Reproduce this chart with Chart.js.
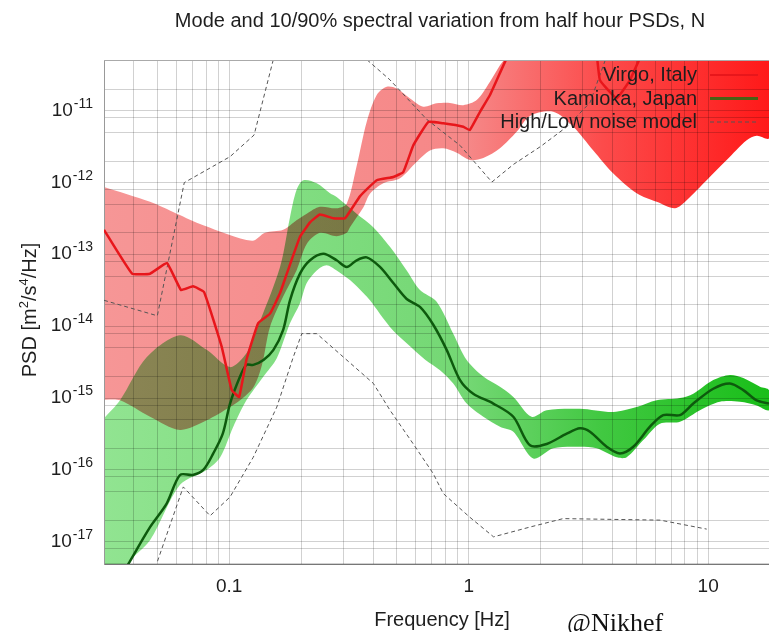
<!DOCTYPE html>
<html>
<head>
<meta charset="utf-8">
<script src="https://cdn.jsdelivr.net/npm/chart.js@4.4.0/dist/chart.umd.min.js"></script>
<style>
    body { margin: 0; background: #fff; }
    canvas { display: block; }
</style>
</head>
<body>
<canvas id="myChart" width="769" height="632"></canvas>
<script>
// frequency [Hz] and PSD [m^2/s^4/Hz]

// Virgo, Italy - mode
let virgoModeF = [0.030, 0.0393, 0.0467, 0.055, 0.0629, 0.0706, 0.0785, 0.093, 0.1024, 0.110, 0.118, 0.132, 0.148, 0.163, 0.174, 0.1975, 0.2175, 0.239, 0.272, 0.3045, 0.352, 0.413, 0.4845, 0.533, 0.587, 0.678, 0.783, 0.95, 1.01, 1.115, 1.227, 1.418, 1.64, 3.27, 3.53, 4.15, 4.72, 5.72, 18];
let virgoModeP = [2.2e-13, 5.4e-14, 5.4e-14, 7.6e-14, 3.2e-14, 3.6e-14, 3.0e-14, 5.2e-15, 1.3e-15, 1.04e-15, 3.4e-15, 1.1e-14, 1.5e-14, 2.9e-14, 5.4e-14, 1.76e-13, 2.8e-13, 3.6e-13, 3.2e-13, 3.2e-13, 6.5e-13, 1.08e-12, 1.2e-12, 1.4e-12, 3.3e-12, 7.0e-12, 6.7e-12, 6.0e-12, 5.4e-12, 9.7e-12, 1.66e-11, 4.8e-11, 1.2e-10, 1.5e-10, 2.7e-11, 1.5e-11, 2.7e-11, 9.7e-11, 2e-10];

// Virgo 90% / 10% envelope
let virgoHighF = [0.030, 0.0467, 0.0604, 0.0779, 0.1245, 0.141, 0.168, 0.191, 0.2107, 0.239, 0.281, 0.3095, 0.3405, 0.375, 0.413, 0.4546, 0.5003, 0.569, 0.646, 0.735, 0.835, 0.9495, 1.08, 1.227, 1.351, 1.441, 1.64, 18];
let virgoHighP = [8.7e-13, 5.4e-13, 3.7e-13, 2.56e-13, 1.55e-13, 2.0e-13, 2.2e-13, 3.0e-13, 3.7e-13, 4.6e-13, 4.4e-13, 5.1e-13, 1.7e-12, 7.0e-12, 1.66e-11, 2.16e-11, 2.05e-11, 1.49e-11, 1.14e-11, 1.27e-11, 1.29e-11, 1.2e-11, 1.41e-11, 2.54e-11, 4.3e-11, 5.8e-11, 1.5e-10, 1.5e-10];
let virgoLowF = [0.030, 0.035, 0.0467, 0.0623, 0.0805, 0.1008, 0.111, 0.126, 0.137, 0.148, 0.168, 0.191, 0.2107, 0.239, 0.281, 0.3095, 0.3193, 0.363, 0.387, 0.44, 0.5166, 0.607, 0.689, 0.783, 0.891, 1.0125, 1.151, 1.351, 1.586, 1.803, 2.256, 2.734, 3.314, 4.017, 5.029, 6.095, 7.268, 8.132, 9.856, 11.95, 14.48, 15.95, 17.95];
let virgoLowP = [9.5e-16, 9.3e-16, 5.5e-16, 3.6e-16, 4.9e-16, 7.5e-16, 9.3e-16, 1.4e-15, 2.9e-15, 9.8e-15, 2.6e-14, 6.0e-14, 1.4e-13, 2.0e-13, 1.8e-13, 2.0e-13, 2.4e-13, 4.5e-13, 7.0e-13, 9.8e-13, 1.15e-12, 1.95e-12, 2.8e-12, 3.0e-12, 2.6e-12, 2.06e-12, 2.2e-12, 3.0e-12, 5.1e-12, 8.5e-12, 9.7e-12, 6.0e-12, 2.8e-12, 1.34e-12, 7.1e-13, 5.4e-13, 4.4e-13, 5.7e-13, 1.08e-12, 2.06e-12, 3.9e-12, 4.5e-12, 4.2e-12];

// Kamioka, Japan - mode
let kamModeF = [0.030, 0.0379, 0.0467, 0.0548, 0.0623, 0.0704, 0.0779, 0.0858, 0.094, 0.1008, 0.111, 0.118, 0.126, 0.139, 0.153, 0.168, 0.1794, 0.1975, 0.2175, 0.247, 0.281, 0.3095, 0.3405, 0.375, 0.426, 0.4845, 0.551, 0.626, 0.7114, 0.809, 0.92, 1.045, 1.267, 1.536, 1.803, 2.117, 2.566, 2.915, 3.21, 3.77, 4.282, 4.868, 5.715, 6.494, 7.625, 8.666, 10.5, 12.33, 14.02, 15.95, 17.95];
let kamModeP = [1.3e-18, 4.9e-18, 1.6e-17, 3.4e-17, 8.5e-17, 8.5e-17, 1.0e-16, 1.7e-16, 3.2e-16, 8.4e-16, 2.0e-15, 2.9e-15, 2.9e-15, 3.4e-15, 4.7e-15, 8.9e-15, 2.3e-14, 5.4e-14, 8.3e-14, 1.02e-13, 8.3e-14, 6.7e-14, 8.3e-14, 9.1e-14, 6.7e-14, 4.0e-14, 2.4e-14, 1.86e-14, 1.05e-14, 4.7e-15, 1.78e-15, 1.15e-15, 8.4e-16, 5.5e-16, 2.2e-16, 2.3e-16, 3.2e-16, 3.8e-16, 3.4e-16, 2.1e-16, 1.7e-16, 2.1e-16, 4.0e-16, 5.8e-16, 5.8e-16, 8.4e-16, 1.35e-15, 1.6e-15, 1.29e-15, 9.3e-16, 8.4e-16];

// Kamioka 90% / 10% envelope
let kamHighF = [0.030, 0.035, 0.0452, 0.0623, 0.0805, 0.1008, 0.118, 0.130, 0.163, 0.1794, 0.191, 0.204, 0.232, 0.2636, 0.281, 0.3405, 0.3995, 0.469, 0.551, 0.626, 0.735, 0.862, 0.981, 1.151, 1.351, 1.536, 1.83, 2.117, 2.915, 4.017, 5.029, 6.095, 7.625, 8.666, 10.5, 12.33, 14.02, 16.46, 17.95];
let kamHighP = [5.2e-16, 9.3e-16, 3.7e-15, 7.5e-15, 4.7e-15, 2.7e-15, 4.2e-15, 8.9e-15, 6.7e-14, 3.3e-13, 7.9e-13, 1.08e-12, 9.8e-13, 7.1e-13, 6.3e-13, 3.7e-13, 2.4e-13, 1.28e-13, 6.0e-14, 3.2e-14, 2.2e-14, 7.9e-15, 3.4e-15, 2.0e-15, 1.44e-15, 1.04e-15, 5.5e-16, 6.8e-16, 7.1e-16, 6.4e-16, 7.5e-16, 9.3e-16, 1.0e-15, 1.15e-15, 1.78e-15, 2.1e-15, 1.9e-15, 1.44e-15, 1.29e-15];
let kamLowF = [0.030, 0.0373, 0.0467, 0.0623, 0.0805, 0.0917, 0.104, 0.118, 0.139, 0.158, 0.1794, 0.1975, 0.2107, 0.232, 0.255, 0.281, 0.3193, 0.363, 0.387, 0.469, 0.551, 0.66, 0.759, 0.862, 0.981, 1.151, 1.351, 1.536, 1.861, 2.256, 2.915, 3.423, 4.15, 4.568, 5.358, 6.292, 7.625, 9.243, 11.2, 13.58, 15.95, 17.95];
let kamLowP = [1.5e-18, 4.9e-18, 1.05e-17, 6.2e-17, 1.0e-16, 1.5e-16, 4.0e-16, 9.3e-16, 2.0e-15, 3.6e-15, 1.1e-14, 2.1e-14, 4.0e-14, 6.0e-14, 7.1e-14, 6.0e-14, 4.4e-14, 2.9e-14, 2.3e-14, 9.8e-15, 5.8e-15, 3.4e-15, 2.45e-15, 1.6e-15, 8.4e-16, 5.5e-16, 4.0e-16, 3.4e-16, 1.44e-16, 2.0e-16, 2.1e-16, 2.0e-16, 1.5e-16, 1.5e-16, 2.6e-16, 4.4e-16, 4.7e-16, 6.8e-16, 8.9e-16, 8.9e-16, 7.9e-16, 6.8e-16];

// Peterson high / low noise models
let nhnmF = [0.030, 0.0501, 0.0649, 0.1008, 0.127, 0.18, 0.469, 0.668, 0.92, 1.25, 1.54, 2.0, 2.57, 3.21, 4.0];
let nhnmP = [2.3e-14, 1.4e-14, 1.0e-12, 2.3e-12, 4.6e-12, 4.4e-10, 2.7e-11, 7.6e-12, 3.3e-12, 1.02e-12, 1.8e-12, 3.2e-12, 6.0e-12, 1.3e-11, 1.0e-10];
let nlnmF = [0.048, 0.0643, 0.0832, 0.1008, 0.126, 0.158, 0.185, 0.201, 0.232, 0.40, 0.469, 0.587, 0.711, 0.783, 1.01, 1.27, 1.80, 2.48, 6.3, 9.86];
let nlnmP = [3.5e-18, 5.8e-17, 2.3e-17, 4.2e-17, 1.5e-16, 7.5e-16, 3.7e-15, 7.9e-15, 7.9e-15, 1.6e-15, 6.8e-16, 2.3e-16, 8.9e-17, 4.7e-17, 2.2e-17, 1.17e-17, 1.6e-17, 2.1e-17, 2.0e-17, 1.5e-17];

// axes
let xMin = 0.03, xMax = 17.95;
let yMin = 4.9e-18, yMax = 5.1e-11;
let xLabels = [0.1, 1, 10];
let yExps = [-17, -16, -15, -14, -13, -12, -11];

let titleText = 'Mode and 10/90% spectral variation from half hour PSDs, N';
let sans = '"Liberation Sans", Arial, sans-serif';

let pts = (f, p) => f.map((x, i) => ({ x: x, y: p[i] }));
// closed outline: upper edge left->right, lower edge right->left
let band = (fu, pu, fl, pl) => pts(fu, pu).concat(pts(fl, pl).reverse());

let xTicks = [];
for (let e = -2; e <= 1; e++) {
    for (let m = 1; m <= 9; m++) {
        let v = Number(m + 'e' + e);
        if (v >= xMin && v <= xMax) xTicks.push(v);
    }
}
let yTicks = [];
for (let e = -18; e <= -11; e++) {
    [1, 2, 5, 8].forEach(m => {
        let v = Number(m + 'e' + e);
        if (v >= yMin && v <= yMax) yTicks.push(v);
    });
}

function gradient(chart, stops) {
    let area = chart.chartArea;
    if (!area) return stops[0][1];
    let g = chart.ctx.createLinearGradient(area.left, 0, area.right, 0);
    stops.forEach(s => g.addColorStop(s[0], s[1]));
    return g;
}
let redStops = [[0, 'rgb(246,150,150)'], [0.55, 'rgb(246,135,135)'], [0.75, 'rgb(252,75,75)'], [1, 'rgb(255,25,25)']];
let greenStops = [[0, 'rgb(145,228,145)'], [0.55, 'rgb(115,215,115)'], [0.75, 'rgb(65,200,65)'], [1, 'rgb(25,190,25)']];

let legendItems = [
    { label: 'Virgo, Italy', color: '#e8161b', width: 2, dash: [] },
    { label: 'Kamioka, Japan', color: '#4a6114', width: 3, dash: [] },
    { label: 'High/Low noise model', color: '#555', width: 1, dash: [4, 3] }
];

function drawParts(ctx, parts, x, y, big, small) {
    // parts: [text, isSuperscript]
    let w = 0;
    parts.forEach(p => {
        ctx.font = (p[1] ? small : big) + 'px ' + sans;
        w += ctx.measureText(p[0]).width;
    });
    let cx = x - w / 2;
    ctx.textAlign = 'left';
    parts.forEach(p => {
        ctx.font = (p[1] ? small : big) + 'px ' + sans;
        ctx.fillText(p[0], cx, p[1] ? y - 8 : y);
        cx += ctx.measureText(p[0]).width;
    });
}

const overlay = {
    id: 'overlay',
    beforeRender(chart) {
        // envelopes are multiplied, so red over green turns olive like the original
        chart.ctx.globalCompositeOperation = 'multiply';
    },
    beforeDraw(chart) {
        chart.ctx.globalCompositeOperation = 'source-over';
    },
    afterDraw(chart) {
        let ctx = chart.ctx;
        let area = chart.chartArea;
        let xs = chart.scales.x;
        let ys = chart.scales.y;
        ctx.save();

        ctx.strokeStyle = '#aaa';
        ctx.lineWidth = 1;
        ctx.beginPath();
        ctx.moveTo(area.left, area.top + 0.5);
        ctx.lineTo(area.right, area.top + 0.5);
        ctx.stroke();

        ctx.fillStyle = '#1e1e1e';
        ctx.textBaseline = 'alphabetic';

        ctx.font = '20px ' + sans;
        ctx.textAlign = 'center';
        ctx.fillText(titleText, 440, 27);

        ctx.font = '19px ' + sans;
        xLabels.forEach(v => ctx.fillText(String(v), xs.getPixelForValue(v), 592));

        ctx.font = '20px ' + sans;
        ctx.fillText('Frequency [Hz]', 442, 626);

        ctx.textAlign = 'right';
        yExps.forEach(e => {
            let y = ys.getPixelForValue(Number('1e' + e));
            ctx.font = '14px ' + sans;
            let sup = String(e);
            let w = ctx.measureText(sup).width;
            ctx.fillText(sup, 93, y - 3);
            ctx.font = '19px ' + sans;
            ctx.fillText('10', 92 - w, y + 5);
        });

        ctx.save();
        ctx.translate(36, 310);
        ctx.rotate(-Math.PI / 2);
        drawParts(ctx, [['PSD [m', 0], ['2', 1], ['/s', 0], ['4', 1], ['/Hz]', 0]], 0, 0, 20, 13);
        ctx.restore();

        legendItems.forEach((item, i) => {
            let base = 81 + i * 23.5;
            ctx.font = '20px ' + sans;
            ctx.textAlign = 'right';
            ctx.fillStyle = '#1e1e1e';
            ctx.fillText(item.label, 697, base);
            ctx.strokeStyle = item.color;
            ctx.lineWidth = item.width;
            ctx.setLineDash(item.dash);
            ctx.beginPath();
            ctx.moveTo(710, base - 6);
            ctx.lineTo(758, base - 6);
            ctx.stroke();
        });
        ctx.setLineDash([]);

        ctx.font = '26px "Liberation Serif", "Times New Roman", serif';
        ctx.textAlign = 'left';
        ctx.fillStyle = '#111';
        ctx.fillText('@Nikhef', 567, 631);
        ctx.restore();
    }
};

let config = {
    type: 'line',
    data: {
        datasets: [{
                label: 'Virgo, Italy',
                data: pts(virgoModeF, virgoModeP),
                borderColor: '#e8161b',
                borderWidth: 2.5,
                pointRadius: 0,
                fill: false,
                tension: 0.1
            },
            {
                label: 'Kamioka, Japan',
                data: pts(kamModeF, kamModeP),
                borderColor: '#0d5a0d',
                borderWidth: 2.5,
                pointRadius: 0,
                fill: false,
                tension: 0.3
            },
            {
                label: 'High/Low noise model',
                data: pts(nhnmF, nhnmP),
                borderColor: '#555',
                borderWidth: 1,
                borderDash: [4, 3],
                pointRadius: 0,
                fill: false
            },
            {
                label: 'Low noise model',
                data: pts(nlnmF, nlnmP),
                borderColor: '#555',
                borderWidth: 1,
                borderDash: [4, 3],
                pointRadius: 0,
                fill: false
            },
            {
                label: 'Virgo 10/90%',
                data: band(virgoHighF, virgoHighP, virgoLowF, virgoLowP),
                borderWidth: 0,
                borderColor: 'rgba(0,0,0,0)',
                backgroundColor: c => gradient(c.chart, redStops),
                pointRadius: 0,
                fill: 'shape',
                tension: 0.3
            },
            {
                label: 'Kamioka 10/90%',
                data: band(kamHighF, kamHighP, kamLowF, kamLowP),
                borderWidth: 0,
                borderColor: 'rgba(0,0,0,0)',
                backgroundColor: c => gradient(c.chart, greenStops),
                pointRadius: 0,
                fill: 'shape',
                tension: 0.3
            }
        ]
    },
    options: {
        responsive: false,
        animation: false,
        events: [],
        layout: { padding: { left: 104, top: 60, right: 0, bottom: 68 } },
        scales: {
            x: {
                type: 'logarithmic',
                min: xMin,
                max: xMax,
                afterBuildTicks: axis => { axis.ticks = xTicks.map(v => ({ value: v })); },
                ticks: { display: false },
                grid: { color: 'rgba(0,0,0,0.18)', drawTicks: false },
                border: { color: '#777' }
            },
            y: {
                type: 'logarithmic',
                min: yMin,
                max: yMax,
                afterBuildTicks: axis => { axis.ticks = yTicks.map(v => ({ value: v })); },
                ticks: { display: false },
                grid: { color: 'rgba(0,0,0,0.18)', drawTicks: false },
                border: { color: '#999' }
            }
        },
        plugins: {
            legend: { display: false },
            tooltip: { enabled: false },
            filler: { drawTime: 'beforeDraw' }
        }
    },
    plugins: [overlay]
};

let myChart = new Chart(document.getElementById('myChart'), config);
</script>
</body>
</html>
